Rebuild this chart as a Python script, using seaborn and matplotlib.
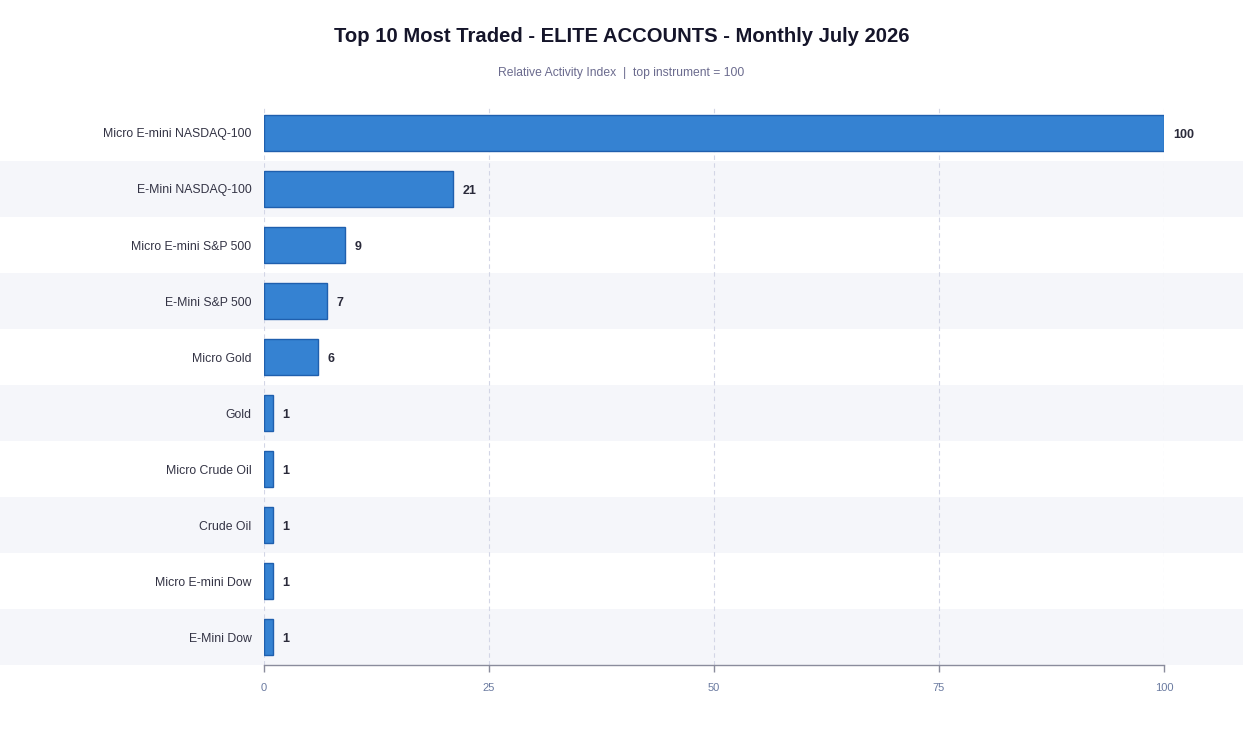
import matplotlib
matplotlib.use("Agg")
import matplotlib.pyplot as plt
import seaborn as sns
import pandas as pd
from matplotlib.patches import Rectangle
from matplotlib.transforms import blended_transform_factory

categories = ["Micro E-mini NASDAQ-100", "E-Mini NASDAQ-100", "Micro E-mini S&P 500",
              "E-Mini S&P 500", "Micro Gold", "Gold", "Micro Crude Oil", "Crude Oil",
              "Micro E-mini Dow", "E-Mini Dow"]
values = [100, 21, 9, 7, 6, 1, 1, 1, 1, 1]
x_ticks = [0, 25, 50, 75, 100]
title = "Top 10 Most Traded - ELITE ACCOUNTS - Monthly July 2026"
subtitle = "Relative Activity Index  |  top instrument = 100"

sns.set_theme(style="white")
plt.rcParams['font.family'] = ['Liberation Sans', 'DejaVu Sans']

df = pd.DataFrame({"instrument": categories, "value": values})

fig = plt.figure(figsize=(12.43, 7.29), dpi=100)
ax = fig.add_axes([264/1243, 1-665/729, 900/1243, 560/729])

sns.barplot(data=df, x="value", y="instrument", orient="h", color="#3582d2",
            saturation=1, edgecolor="#1f5fae", linewidth=1.0, width=0.64, ax=ax, zorder=3)

ax.set_xlim(0, 100)
ax.set_ylim(len(categories) - 0.5, -0.5)

trans = blended_transform_factory(fig.transFigure, ax.transData)
for i in range(len(categories)):
    if i % 2 == 1:
        ax.add_patch(Rectangle((0, i - 0.5), 1, 1, transform=trans, facecolor="#f5f6fa",
                               edgecolor="none", clip_on=False, zorder=0))

ax.set_xticks(x_ticks)
ax.set_xticklabels([str(t) for t in x_ticks], color="#6a7aa0", fontsize=8)
ax.grid(axis="x", color="#d3d6e6", linestyle=(0, (4, 3)), linewidth=0.8, zorder=1)
ax.set_axisbelow(True)
for s in ["top", "right", "left"]:
    ax.spines[s].set_visible(False)
ax.spines["bottom"].set_color("#8a8c9c")
ax.spines["bottom"].set_linewidth(1.0)
ax.spines["bottom"].set_zorder(4)
ax.tick_params(axis="x", bottom=True, length=5, width=1, color="#8a8c9c", pad=8)
ax.tick_params(axis="y", left=False, length=0, pad=9, labelsize=8.8, labelcolor="#333344")
for lab in ax.get_yticklabels():
    lab.set_va("center_baseline")
ax.set_xlabel("")
ax.set_ylabel("")
ax.patch.set_alpha(0)

for i, v in enumerate(values):
    ax.annotate(f"{v}", xy=(v, i), xytext=(7, 0), textcoords="offset points",
                ha="left", va="center_baseline", fontsize=9, fontweight="bold", color="#2a2a3a")

fig.text(0.5, 1 - 36/729, title, ha="center", va="center", fontsize=14.6,
         fontweight="bold", color="#15152a")
fig.text(0.5, 1 - 73/729, subtitle, ha="center", va="center", fontsize=8.75,
         color="#6b6b8e")

fig.savefig("out.png", dpi=100)
